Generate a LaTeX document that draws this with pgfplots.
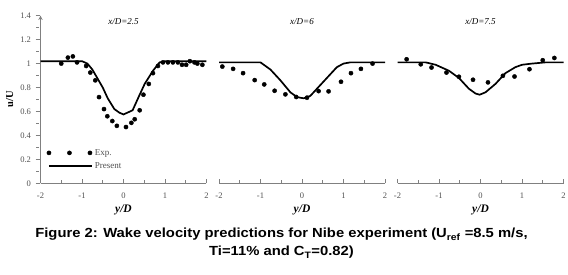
\documentclass[border=0pt]{standalone}
\usepackage{pgfplots}
\pgfplotsset{compat=1.18}
\usepackage{fontspec}
\setmainfont{Liberation Serif}
\newfontfamily\capfont[FakeStretch=1.12]{Liberation Sans}
\definecolor{axgray}{HTML}{808080}
\definecolor{lblgray}{HTML}{505050}
\pgfplotsset{
 panel/.style={
  scale only axis, width=166pt, height=167.6pt,
  xmin=-2, xmax=2, ymin=0, ymax=1.4,
  axis x line=bottom, axis line style={axgray, line width=0.9pt, -},
  xtick={-2,-1,0,1,2}, minor xtick={-1.5,-0.5,0.5,1.5},
  tick align=inside, major tick length=4pt, minor tick length=3pt,
  every tick/.style={axgray, line width=0.8pt},
  ticklabel style={font=\fontsize{8.5}{10}\selectfont, text=lblgray},
  xticklabel style={yshift=-6pt},
  /pgf/number format/assume math mode=true,
  xlabel={\bfseries\itshape y/D},
  xlabel style={font=\fontsize{11.5}{12}\selectfont, at={(axis description cs:0.5,0)}, anchor=center, yshift=-27pt},
  title style={font=\fontsize{9}{10}\selectfont\itshape, at={(axis description cs:0.5,0.93)}, anchor=center},
  clip=false,
 },
 exp/.style={only marks, mark=*, mark size=2.1pt, black},
 pres/.style={black, line width=1.7pt, no marks},
 explegend/.style={legend image code/.code={\draw[##1] plot coordinates {(0pt,0pt) (20.5pt,0pt) (41pt,0pt)};}},
 preslegend/.style={legend image code/.code={\draw[##1] (0pt,0pt) -- (43pt,0pt);}},
}
\begin{document}
\begin{tikzpicture}
\path[use as bounding box] (-40.5pt,-91.7pt) rectangle (527.5pt,183.3pt);
% Panel 1
\begin{axis}[panel, at={(0pt,0pt)}, anchor=south west,
  axis y line=left,
  ytick={0,0.2,...,1.4}, minor ytick={0.1,0.3,...,1.3},
  y tick style={xshift=-3pt},
  yticklabel style={xshift=-4pt},
  ylabel={\bfseries u/U},
  ylabel style={font=\fontsize{10.5}{12}\selectfont, at={(axis description cs:-0.185,0.5)}, anchor=center},
  title={x/D=2.5},
  legend style={at={(axis cs:-1.9,0.32)}, anchor=north west, draw=none, fill=none,
    font=\fontsize{9}{10}\selectfont\color{lblgray}, row sep=2pt, inner xsep=2pt},
  legend cell align=left,
]
\addplot[exp, explegend]
 coordinates {(-1.50,1.00) (-1.34,1.05) (-1.22,1.06) (-1.12,1.01) (-0.90,0.98) (-0.80,0.925) (-0.68,0.86) (-0.59,0.72) (-0.47,0.62) (-0.39,0.56) (-0.27,0.52) (-0.16,0.48) (0.06,0.47) (0.19,0.505) (0.27,0.535) (0.39,0.61) (0.48,0.74) (0.61,0.83) (0.71,0.92) (0.83,0.98) (0.95,1.01) (1.07,1.01) (1.19,1.01) (1.31,1.01) (1.41,0.99) (1.51,0.99) (1.60,1.02) (1.71,1.01) (1.78,1.0) (1.90,0.99)};
\addlegendentry{Exp.}
\addplot[pres, preslegend]
 coordinates {(-2,1.02) (-1.0,1.02) (-0.87,1.0) (-0.75,0.95) (-0.65,0.89) (-0.5,0.80) (-0.38,0.71) (-0.22,0.62) (-0.1,0.59) (0,0.575) (0.22,0.61) (0.35,0.71) (0.51,0.83) (0.71,0.94) (0.87,1.01) (1.0,1.02) (2,1.02)};
\addlegendentry{Present}
\end{axis}
% Panel 2
\begin{axis}[panel, at={(178.5pt,0pt)}, anchor=south west, axis y line=none, title={x/D=6}]
\addplot[exp] coordinates {(-1.92,0.975) (-1.66,0.956) (-1.42,0.92) (-1.14,0.862) (-0.91,0.826) (-0.66,0.773) (-0.40,0.743) (-0.14,0.721) (0.12,0.715) (0.40,0.77) (0.64,0.768) (0.94,0.848) (1.18,0.92) (1.42,0.956) (1.70,1.0)};
\addplot[pres] coordinates {(-2,1.01) (-1.0,1.01) (-0.76,0.95) (-0.52,0.86) (-0.28,0.76) (-0.12,0.72) (0.04,0.71) (0.2,0.73) (0.36,0.79) (0.6,0.88) (0.84,0.97) (1.0,1.0) (1.16,1.01) (2,1.01)};
\end{axis}
% Panel 3
\begin{axis}[panel, at={(357pt,0pt)}, anchor=south west, axis y line=none, title={x/D=7.5}]
\addplot[exp] coordinates {(-1.78,1.036) (-1.44,0.994) (-1.18,0.967) (-0.82,0.925) (-0.52,0.89) (-0.18,0.865) (0.18,0.843) (0.54,0.898) (0.82,0.892) (1.18,0.953) (1.50,1.028) (1.78,1.047)};
\addplot[pres] coordinates {(-2,1.01) (-1.32,1.01) (-1.08,0.99) (-0.76,0.94) (-0.52,0.88) (-0.28,0.79) (-0.12,0.75) (-0.02,0.74) (0.12,0.76) (0.36,0.83) (0.6,0.92) (0.84,0.97) (1.0,0.99) (1.24,1.0) (1.56,1.01) (2,1.01)};
\end{axis}
\node[align=center, font=\capfont\bfseries\fontsize{13.2}{18.5}\selectfont, inner sep=0pt] at (241pt,-60pt)
 {Figure 2: Wake velocity predictions for Nibe experiment (U\textsubscript{ref} =8.5 m/s,\\ Ti=11\% and C\textsubscript{T}=0.82)};
\end{tikzpicture}
\end{document}
